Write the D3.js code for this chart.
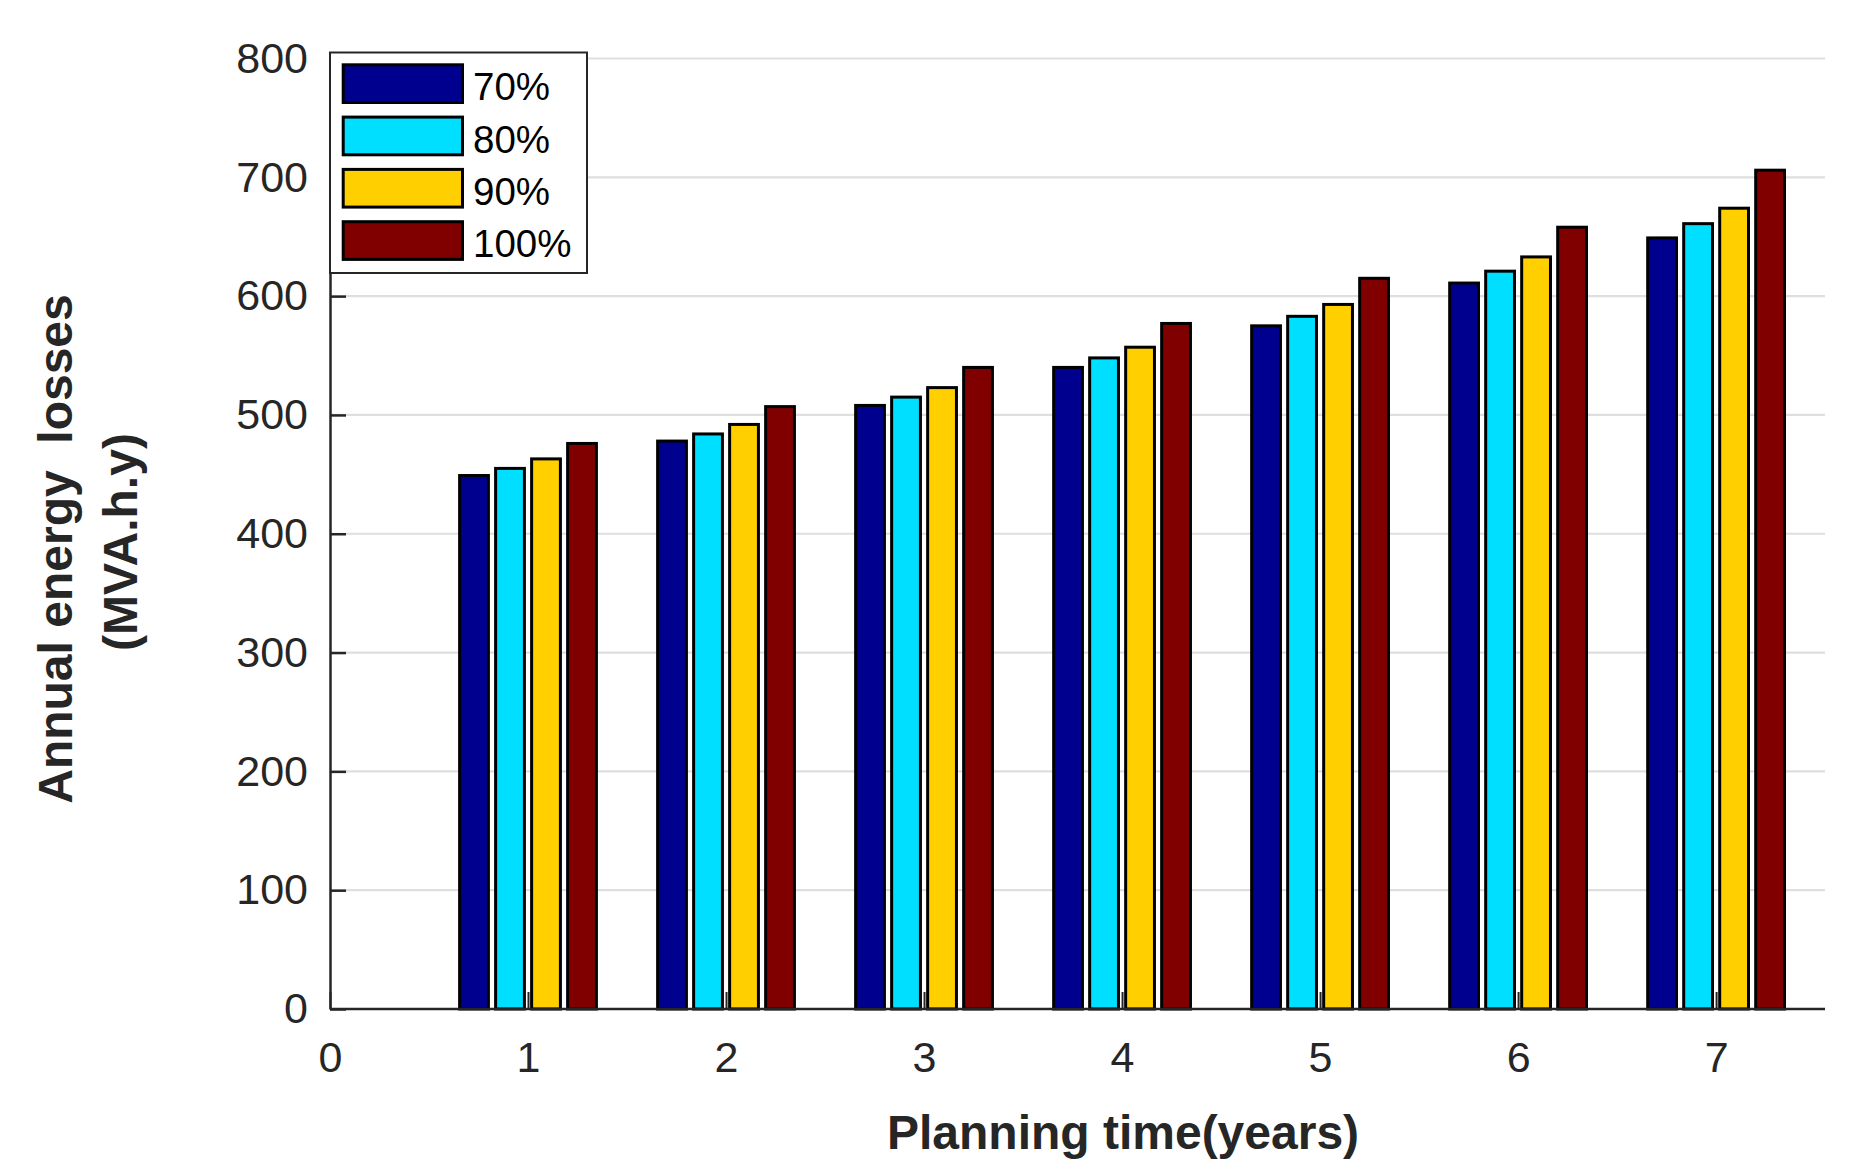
<!DOCTYPE html>
<html>
<head>
<meta charset="utf-8">
<script src="https://cdn.jsdelivr.net/npm/d3@7"></script>
<style>
  body { margin: 0; background: #fff; }
  svg { display: block; font-family: "Liberation Sans", Arial, sans-serif; }
</style>
</head>
<body>
<div id="chart"></div>
<script>
// Données
const years = [1, 2, 3, 4, 5, 6, 7];
const series = ['70%', '80%', '90%', '100%'];
const losses70 = [449, 478, 508, 540, 575, 611, 649];
const losses80 = [455, 484, 515, 548, 583, 621, 661];
const losses90 = [463, 492, 523, 557, 593, 633, 674];
const losses100 = [476, 507, 540, 577, 615, 658, 706];
const colors = ['#00008f', '#00dfff', '#ffcf00', '#800000'];
const yTicks = [0, 100, 200, 300, 400, 500, 600, 700, 800];
const xTicks = [0, 1, 2, 3, 4, 5, 6, 7];

const values = [losses70, losses80, losses90, losses100];

const width = 1854, height = 1167;
const axisColor = '#262626';

const svg = d3.select('#chart').append('svg')
    .attr('width', width)
    .attr('height', height);

svg.append('rect').attr('width', width).attr('height', height).attr('fill', '#fff');

const x = d3.scaleLinear().domain([0, 7.55]).range([330, 1825]);
const y = d3.scaleLinear().domain([0, 800]).range([1009, 58.5]);

// largeur de groupe façon MATLAB (4 séries)
const unit = x(1) - x(0);
const groupWidth = Math.min(0.8, series.length / (series.length + 1.5)) * unit;
const xs = d3.scaleBand()
    .domain(series)
    .range([-groupWidth / 2, groupWidth / 2])
    .paddingInner(0.2)
    .paddingOuter(0.1);

// grille horizontale
svg.append('g')
    .selectAll('line')
    .data(yTicks)
    .enter()
    .append('line')
    .attr('x1', x(0))
    .attr('x2', x(7.55))
    .attr('y1', d => y(d))
    .attr('y2', d => y(d))
    .attr('stroke', '#dfdfdf')
    .attr('stroke-width', 2.2);

// axe x (ticks vers l'intérieur)
const xAxis = svg.append('g')
    .attr('transform', `translate(0,${y(0)})`)
    .style('color', axisColor)
    .call(d3.axisBottom(x).tickValues(xTicks).tickFormat(d3.format('d'))
        .tickSize(-17).tickSizeOuter(0).tickPadding(32));
xAxis.selectAll('text').attr('font-size', 43).attr('fill', axisColor)
    .attr('font-family', '"Liberation Sans", Arial, sans-serif');
xAxis.selectAll('.tick line').attr('stroke-width', 2);
xAxis.select('.domain').remove();

// barres
series.forEach((s, si) => {
    svg.append('g')
        .selectAll('rect')
        .data(values[si])
        .enter()
        .append('rect')
        .attr('x', (d, i) => x(years[i]) + xs(s))
        .attr('y', d => y(d))
        .attr('width', xs.bandwidth())
        .attr('height', d => y(0) - y(d))
        .attr('fill', colors[si])
        .attr('stroke', '#000')
        .attr('stroke-width', 3);
});

// axe y
const yAxis = svg.append('g')
    .attr('transform', `translate(${x(0)},0)`)
    .style('color', axisColor)
    .call(d3.axisLeft(y).tickValues(yTicks)
        .tickSize(-16).tickSizeOuter(0).tickPadding(22));
yAxis.selectAll('text').attr('font-size', 43).attr('fill', axisColor)
    .attr('font-family', '"Liberation Sans", Arial, sans-serif');
yAxis.selectAll('.tick line').attr('stroke-width', 2.5);
yAxis.select('.domain').attr('stroke-width', 2.5);

// ligne de base
svg.append('line')
    .attr('x1', x(0)).attr('x2', x(7.55))
    .attr('y1', y(0)).attr('y2', y(0))
    .attr('stroke', axisColor)
    .attr('stroke-width', 2.5);

// titres des axes
svg.append('text')
    .attr('x', 1123)
    .attr('y', 1149)
    .attr('text-anchor', 'middle')
    .attr('font-size', 48)
    .attr('font-weight', 'bold')
    .attr('fill', axisColor)
    .text('Planning time(years)');

const yLabel = svg.append('text')
    .attr('transform', 'rotate(-90)')
    .attr('text-anchor', 'middle')
    .attr('font-size', 48)
    .attr('font-weight', 'bold')
    .attr('fill', axisColor)
    .style('white-space', 'pre');
yLabel.append('tspan').attr('x', -549).attr('y', 71.5).text('Annual energy  losses');
yLabel.append('tspan').attr('x', -542).attr('y', 136.5).text('(MVA.h.y)');

// légende
const legend = svg.append('g');
legend.append('rect')
    .attr('x', 330).attr('y', 52.5)
    .attr('width', 257).attr('height', 220.5)
    .attr('fill', '#fff')
    .attr('stroke', axisColor)
    .attr('stroke-width', 2);

const items = legend.selectAll('g.item')
    .data(series)
    .enter()
    .append('g')
    .attr('class', 'item')
    .attr('transform', (d, i) => `translate(0,${i * 52.3})`);

items.append('rect')
    .attr('x', 343.2).attr('y', 64.8)
    .attr('width', 119.3).attr('height', 37.7)
    .attr('fill', (d, i) => colors[i])
    .attr('stroke', '#000')
    .attr('stroke-width', 3);

items.append('text')
    .attr('x', 473).attr('y', 100.3)
    .attr('font-size', 38.5)
    .attr('fill', '#000')
    .text(d => d);
</script>
</body>
</html>
